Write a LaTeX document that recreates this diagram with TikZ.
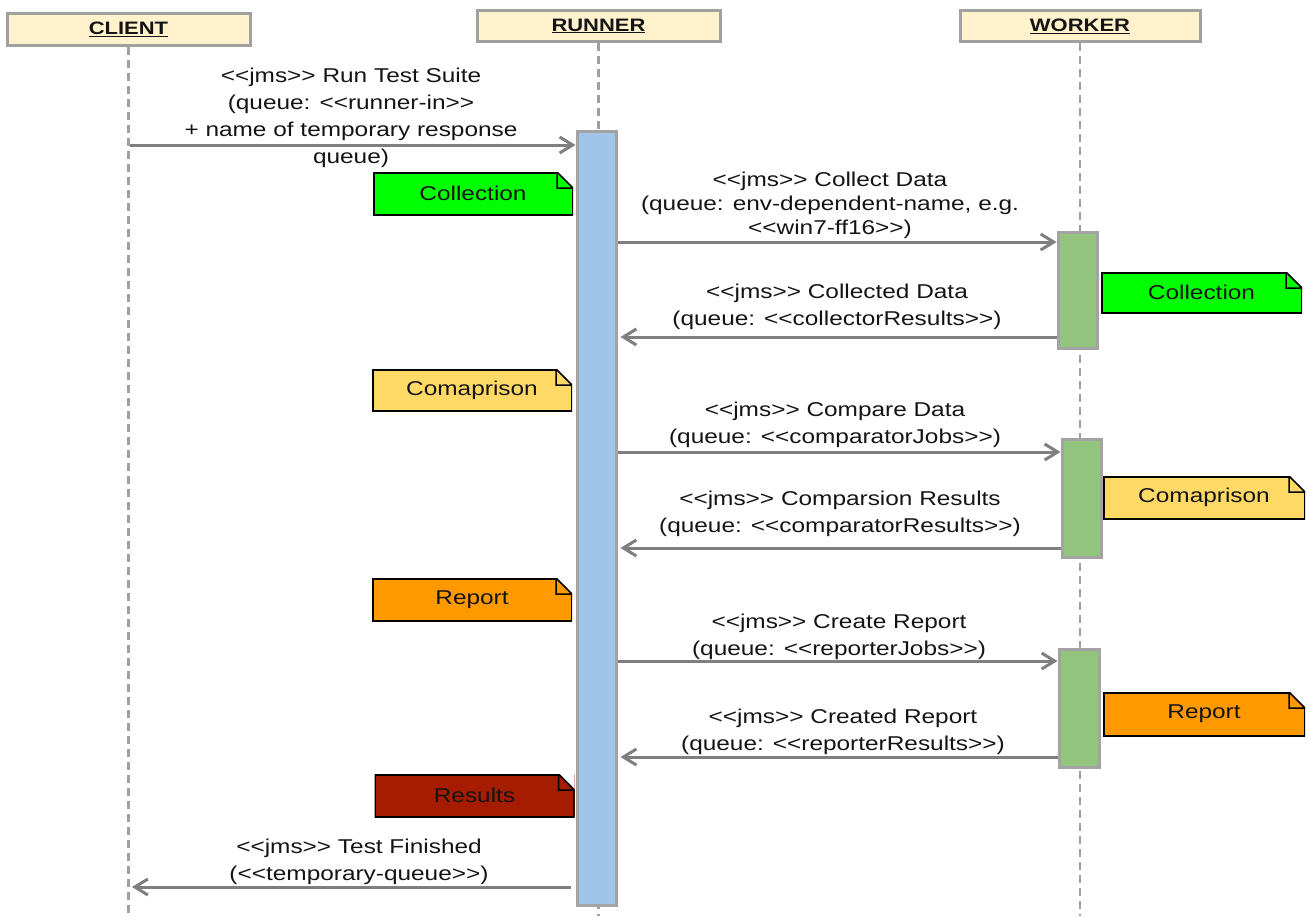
\documentclass[tikz,border=0pt]{standalone}
\usepackage{fontspec}
\setmainfont[FakeStretch=1.22]{Liberation Sans}
\usetikzlibrary{arrows.meta}
\definecolor{hdrfill}{HTML}{FFF2CC}
\definecolor{hdrdraw}{HTML}{A0A0A0}
\definecolor{runfill}{HTML}{9FC5E8}
\definecolor{wrkfill}{HTML}{93C47D}
\definecolor{boxdraw}{HTML}{A3A3A3}
\definecolor{msgcol}{HTML}{7F7F7F}
\definecolor{lifecol}{HTML}{A0A0A0}
\definecolor{txt}{HTML}{141414}
\definecolor{ncoll}{HTML}{00FF00}
\definecolor{ncomp}{HTML}{FFD966}
\definecolor{nrep}{HTML}{FF9900}
\definecolor{nres}{HTML}{A61C00}
\newcommand{\dlt}{<\kern0pt<}
\newcommand{\dgt}{>\kern0pt>}
\tikzset{
  hdr/.style={draw=hdrdraw, fill=hdrfill, line width=3pt, inner sep=0pt,
    font=\fontsize{18}{22}\selectfont\bfseries},
  actbox/.style={draw=boxdraw, line width=3pt, inner sep=0pt},
  msg/.style={draw=msgcol, line width=3pt, -{Straight Barb[length=13pt,width=16pt]}},
  life/.style={draw=lifecol, line width=2.5pt, dash pattern=on 8pt off 5pt},
  lbl/.style={align=center, inner sep=0pt},
  notebox/.style={inner sep=0pt, fill=#1, path picture={
    \fill[white] ([xshift=-16pt]path picture bounding box.north east) --
      (path picture bounding box.north east) --
      ([yshift=-16pt]path picture bounding box.north east) -- cycle;
    \draw[line width=3pt] ([xshift=-16pt]path picture bounding box.north east) --
      (path picture bounding box.north west) --
      (path picture bounding box.south west) --
      (path picture bounding box.south east) --
      ([yshift=-16pt]path picture bounding box.north east);
    \draw[line width=1.5pt, line join=miter] ([xshift=-16pt]path picture bounding box.north east) --
      ([yshift=-16pt]path picture bounding box.north east) -- ++(-16pt,0pt) --
      ([xshift=-16pt]path picture bounding box.north east);
  }}
}
\begin{document}
\begin{tikzpicture}[x=1pt, y=-1pt, font=\fontsize{20}{27}\selectfont, text=txt]
\useasboundingbox (0,0) rectangle (1308,916);
\coordinate (bot) at (0,916);
% notes (drawn first so boxes sit on top)
\node[notebox=ncoll, minimum width=200pt, minimum height=43pt] (nl1) at (473,193.5) {Collection};
\node[notebox=ncomp, minimum width=200pt, minimum height=42pt] (nl2) at (472,390) {Comaprison};
\node[notebox=nrep, minimum width=200pt, minimum height=43pt] (nl3) at (472,599.5) {Report};
\node[notebox=nres, minimum width=200pt, minimum height=43pt] (nl4) at (474.5,795.5) {Results};
\node[notebox=ncoll, minimum width=201pt, minimum height=41pt] (nr1) at (1201.5,292.5) {Collection};
\node[notebox=ncomp, minimum width=202pt, minimum height=43pt] (nr2) at (1204,497.5) {Comaprison};
\node[notebox=nrep, minimum width=202pt, minimum height=44pt] (nr3) at (1204,714) {Report};
% headers
\node[hdr, minimum width=243pt, minimum height=32pt] (client) at (128.5,29) {\underline{CLIENT}};
\node[hdr, minimum width=243pt, minimum height=31pt] (runner) at (598.5,26) {\underline{RUNNER}};
\node[hdr, minimum width=240pt, minimum height=31pt] (worker) at (1080,26) {\underline{WORKER}};
% lifelines
\draw[life] (client.south) -- (client.south |- bot);
\draw[life] (runner.south) -- (runner.south |- bot);
\draw[life] (worker.south) -- (worker.south |- bot);
% activations
\node[actbox, fill=runfill, minimum width=39pt, minimum height=774pt] (ra) at (596.5,518) {};
\node[actbox, fill=wrkfill, minimum width=39pt, minimum height=116pt] (wa1) at (1077.5,290) {};
\node[actbox, fill=wrkfill, minimum width=39pt, minimum height=118pt] (wa2) at (1081.5,498) {};
\node[actbox, fill=wrkfill, minimum width=40pt, minimum height=118pt] (wa3) at (1079,708) {};
% message levels
\coordinate (y1) at (0,145);
\coordinate (y2) at (0,242);
\coordinate (y3) at (0,337);
\coordinate (y4) at (0,452);
\coordinate (y5) at (0,548);
\coordinate (y6) at (0,661);
\coordinate (y7) at (0,757);
\coordinate (y8) at (0,887);
% messages
\draw[msg, shorten <=1.5pt] (client |- y1) -- (ra.west |- y1);
\draw[msg] (ra.east |- y2) -- (wa1.west |- y2);
\draw[msg, shorten >=3pt] (wa1.west |- y3) -- (ra.east |- y3);
\draw[msg] (ra.east |- y4) -- (wa2.west |- y4);
\draw[msg, shorten >=3pt] (wa2.west |- y5) -- (ra.east |- y5);
\draw[msg] (ra.east |- y6) -- (wa3.west |- y6);
\draw[msg, shorten >=3pt] (wa3.west |- y7) -- (ra.east |- y7);
\draw[msg, shorten <=5pt, shorten >=3.5pt] (ra.west |- y8) -- (client |- y8);
% labels
\node[lbl] (lab1) at (351,117.5) {\dlt jms\dgt{} Run Test Suite\\(queue: \dlt runner-in\dgt\\+ name of temporary response\\queue)};
\node[lbl, font=\fontsize{20}{24}\selectfont] (lab2) at (830,205.5) {\dlt jms\dgt{} Collect Data\\(queue: env-dependent-name, e.g.\\\dlt win7-ff16\dgt)};
\node[lbl] (lab3) at (837,306.5) {\dlt jms\dgt{} Collected Data\\(queue: \dlt collectorResults\dgt)};
\node[lbl] (lab4) at (835,424.5) {\dlt jms\dgt{} Compare Data\\(queue: \dlt comparatorJobs\dgt)};
\node[lbl] (lab5) at (840,514) {\dlt jms\dgt{} Comparsion Results\\(queue: \dlt comparatorResults\dgt)};
\node[lbl] (lab6) at (839,636.5) {\dlt jms\dgt{} Create Report\\(queue: \dlt reporterJobs\dgt)};
\node[lbl] (lab7) at (843,731.5) {\dlt jms\dgt{} Created Report\\(queue: \dlt reporterResults\dgt)};
\node[lbl] (lab8) at (359,861.5) {\dlt jms\dgt{} Test Finished\\(\dlt temporary-queue\dgt)};
\end{tikzpicture}
\end{document}
